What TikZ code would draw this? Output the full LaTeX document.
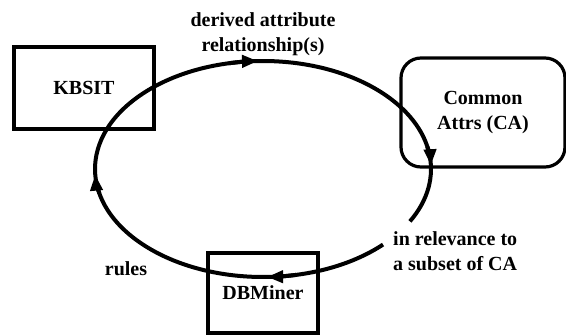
\documentclass[tikz,border=0pt]{standalone}
\usepackage{fontspec}
\setmainfont{Liberation Serif}
\usetikzlibrary{arrows.meta}

\begin{document}
\begin{tikzpicture}[x=1pt, y=1pt, >={Triangle[length=16pt, width=12pt]},
  box/.style={draw, line width=3.2pt, inner sep=0pt, align=center},
  ring/.style={line width=4pt},
  lbl/.style={inner sep=0pt}]
  \useasboundingbox (0,0) rectangle (566,-335);
  \tikzset{every node/.append style={font=\fontsize{20}{25}\selectfont\bfseries}}
  % the three parts
  \node[box, minimum width=140pt, minimum height=82pt] (kbsit) at (84,-88) {KBSIT};
  \node[box, rounded corners=20pt, minimum width=164pt, minimum height=109pt] (common) at (483,-112.5) {Common\\Attrs (CA)};
  \node[box, minimum width=110pt, minimum height=80pt] (dbminer) at (263,-293) {DBMiner};
  % labels on the loop
  \node[lbl, align=center] (derived) at (263,-34.5) {derived attribute\\relationship(s)};
  \node[lbl, align=left, anchor=west] (relevance) at (393,-251.5) {in relevance to\\a subset of CA};
  \node[lbl] (rules) at (126,-269) {rules};
  % loop: center (263,-169), radii 168 x 108, gap near the right label
  \coordinate (ctr) at (263,-169);
  \path (ctr) ++(-44.4:168pt and 108pt) coordinate (gapLow);
  \draw[ring] (gapLow) arc[start angle=-44.4, end angle=-389, x radius=168pt, y radius=108pt] coordinate (gapHigh);
  % arrow heads along the loop
  \foreach \a/\name in {-88.6/tipDB, -177/tipRules, -268.3/tipTop, -358/tipCA}{
    \draw[ring, ->] (ctr) ++(\a+10:168pt and 108pt) arc[start angle=\a+10, end angle=\a, x radius=168pt, y radius=108pt] coordinate (\name);
  }
\end{tikzpicture}
\end{document}
